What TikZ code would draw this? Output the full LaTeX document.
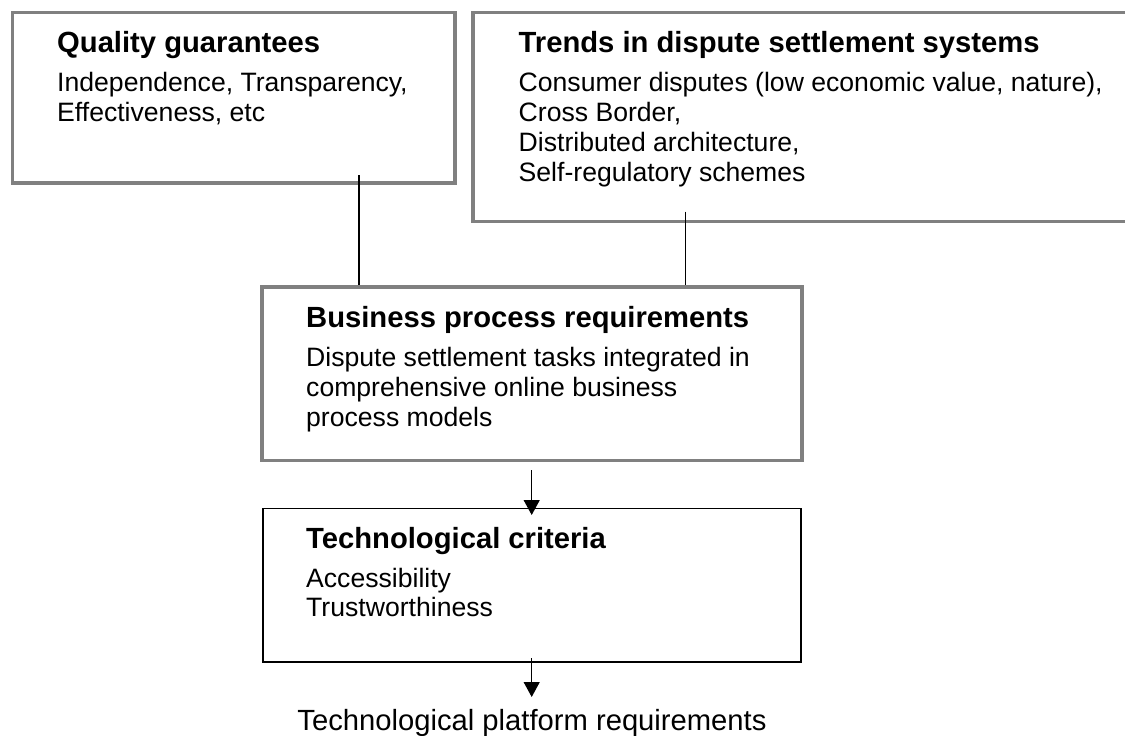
\documentclass[tikz,border=0pt]{standalone}
\usepackage{fontspec}
\setmainfont{Liberation Sans}
\usetikzlibrary{arrows.meta}
\definecolor{boxgray}{RGB}{128,128,128}
\begin{document}
\begin{tikzpicture}[x=1pt,y=-1pt,
  graybox/.style={rectangle, draw=boxgray, line width=3.2pt, inner sep=0pt},
  blackbox/.style={rectangle, draw=black, line width=1.6pt, inner sep=0pt},
  ttl/.style={anchor=base west, inner sep=0pt, font=\fontsize{29.2}{32}\selectfont\bfseries},
  txt/.style={anchor=base west, inner sep=0pt, font=\fontsize{26.6}{29.7}\selectfont},
  plain/.style={anchor=base, inner sep=0pt, font=\fontsize{29.2}{32}\selectfont},
  link/.style={draw=black, line width=1.3pt},
  arr/.style={link, -{Triangle[length=15pt,width=16pt]}}
]
\useasboundingbox (0,0) rectangle (1125,736);
\fill[white] (0,0) rectangle (1125,736);
\clip (0,0) rectangle (1125,736);

% boxes
\node[graybox, minimum width=442.3, minimum height=170.3] (quality) at (233.85,97.85) {};
\node[graybox, minimum width=667, minimum height=209] (trends) at (806.5,117.2) {};
\node[graybox, minimum width=540, minimum height=173.5] (business) at (532,373.75) {};
\node[blackbox, minimum width=538.3, minimum height=153.5] (tech) at (531.85,585.25) {};

% texts: quality
\node[ttl] (qt) at (57,52.3) {Quality guarantees};
\node[txt] (q1) at (57,91.7) {Independence, Transparency,};
\node[txt] (q2) at (57,121.2) {Effectiveness, etc};

% texts: trends
\node[ttl] (tt) at (518.5,52) {Trends in dispute settlement systems};
\node[txt] (t1) at (518.5,91.7) {Consumer disputes (low economic value, nature),};
\node[txt] (t2) at (518.5,121.7) {Cross Border,};
\node[txt] (t3) at (518.5,151.7) {Distributed architecture,};
\node[txt] (t4) at (518.5,181.7) {Self-regulatory schemes};

% texts: business
\node[ttl] (bt) at (306,327.3) {Business process requirements};
\node[txt] (b1) at (306,366.7) {Dispute settlement tasks integrated in};
\node[txt] (b2) at (306,396.7) {comprehensive online business};
\node[txt] (b3) at (306,426.7) {process models};

% texts: technological criteria
\node[ttl] (ct) at (306,548.3) {Technological criteria};
\node[txt] (c1) at (306,587.3) {Accessibility};
\node[txt] (c2) at (306,616.8) {Trustworthiness};

% result
\node[plain] (platform) at (532,730) {Technological platform requirements};

% connectors
\coordinate (qout) at (359,175);
\coordinate (tout) at (685.7,211.7);
\draw[link] (qout) -- (qout |- business.north);
\draw[link] (tout) -- (tout |- business.north);

\coordinate (a1s) at (531.7,470);
\coordinate (a1e) at (531.7,515);
\draw[arr] (a1s) -- (a1e);

\coordinate (a2s) at (531.7,658);
\coordinate (a2e) at (531.7,697);
\draw[arr] (a2s) -- (a2e);
\end{tikzpicture}
\end{document}
